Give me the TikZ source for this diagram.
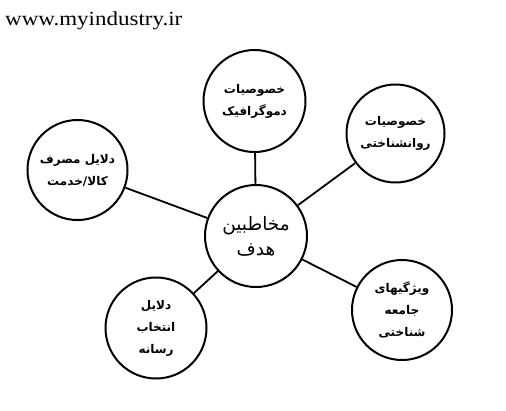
\documentclass[tikz,border=0pt]{standalone}
\usepackage{fontspec}
\setmainfont{Liberation Serif}
\newfontfamily\urlfont[FakeStretch=1.15]{Liberation Serif}
\newfontfamily\arabicfont[Script=Arabic]{DejaVu Sans}
\TeXXeTstate=1
\begin{document}
\begin{tikzpicture}[x=1pt,y=-1pt,
  outer/.style={circle,draw,line width=2pt,minimum size=100pt,inner sep=0pt,align=center,
    font=\arabicfont\bfseries\fontsize{12}{22}\selectfont},
  hub/.style={circle,draw,line width=2pt,minimum size=102pt,inner sep=0pt,align=center,
    font=\arabicfont\fontsize{18.5}{25}\selectfont},
  link/.style={line width=1.8pt}]
\useasboundingbox (0,0) rectangle (506,410);
\fill[white] (0,0) rectangle (506,410);
\node[anchor=base west,font=\urlfont\fontsize{20}{24}\selectfont,inner sep=0pt] (url) at (5,25) {www.myindustry.ir};
\node[hub] (c) at (256,236) {\beginR مخاطبین\endR\\\beginR هدف\endR};
\node[outer,minimum size=102pt] (t) at (254.5,101) {\beginR خصوصیات\endR\\\beginR دموگرافیک\endR};
\node[outer,minimum size=98pt] (ur) at (395.5,133.5) {\beginR خصوصیات\endR\\\beginR روانشناختی\endR};
\node[outer] (l) at (77.5,170) {\beginR دلایل مصرف\endR\\\beginR کالا/خدمت\endR};
\node[outer] (lr) at (402,310) {\beginR ویژگیهای\endR\\\beginR جامعه\endR\\\beginR شناختی\endR};
\node[outer,minimum size=101pt] (ll) at (156,328) {\beginR دلایل\endR\\\beginR انتخاب\endR\\\beginR رسانه\endR};
\draw[link] (c) -- (t);
\draw[link] (c) -- (ur);
\draw[link] (c) -- (l);
\draw[link] (c) -- (lr);
\draw[link] (c) -- (ll);
\end{tikzpicture}
\end{document}
